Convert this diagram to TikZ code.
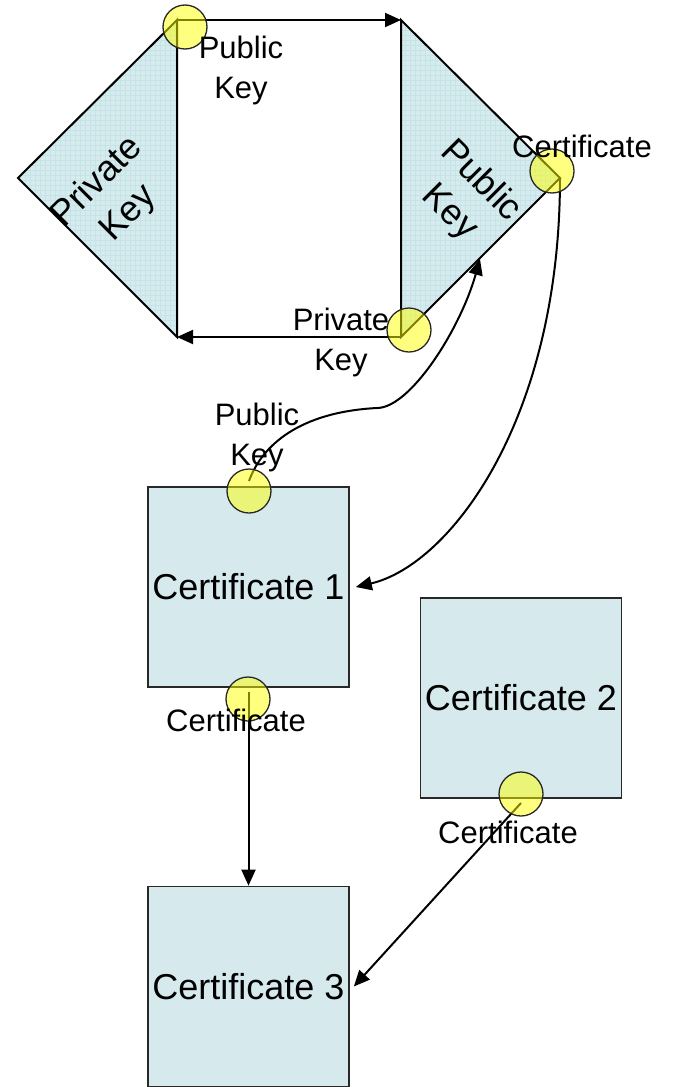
\documentclass[tikz,border=0pt]{standalone}
\usepackage{fontspec}
\setmainfont{Liberation Sans}
\usetikzlibrary{arrows.meta}
\definecolor{keyfill}{RGB}{213,235,238}
\definecolor{keygrid}{RGB}{198,227,231}
\definecolor{boxfill}{RGB}{214,234,238}
\definecolor{portyellow}{RGB}{255,255,0}
\definecolor{edgegray}{RGB}{40,40,40}

\begin{document}
\begin{tikzpicture}[x=1pt,y=-1pt,
  link/.style={line width=2pt, -{Triangle[length=16pt,width=14pt]}},
  plain/.style={line width=2pt, line join=miter},
  certbox/.style={draw=edgegray, line width=1.7pt, fill=boxfill,
    minimum width=201pt, minimum height=200pt, inner sep=0pt,
    font=\fontsize{36}{44}\selectfont},
  port/.style={circle, draw=edgegray, line width=1.3pt, fill=portyellow,
    fill opacity=0.5, minimum size=44pt, inner sep=0pt},
  tag/.style={align=center, inner sep=0pt, font=\fontsize{31}{40}\selectfont},
  keytag/.style={align=center, inner sep=0pt, font=\fontsize{36}{44}\selectfont},
]
\useasboundingbox (0,0) rectangle (673,1087);

% key pair triangles
\coordinate (LT) at (177,20);
\coordinate (LL) at (18,178);
\coordinate (LB) at (177,337);
\coordinate (RT) at (401,20);
\coordinate (RR) at (560,178);
\coordinate (RB) at (401,337);

\fill[keyfill] (LT) -- (LL) -- (LB) -- cycle;
\fill[keyfill] (RT) -- (RR) -- (RB) -- cycle;
\begin{scope}
  \clip (LT) -- (LL) -- (LB) -- cycle;
  \draw[keygrid, line width=0.4pt, step=5pt] (0,400) grid (600,0);
\end{scope}
\begin{scope}
  \clip (RT) -- (RR) -- (RB) -- cycle;
  \draw[keygrid, line width=0.4pt, step=5pt] (0,400) grid (600,0);
\end{scope}
\draw[plain] (LT) -- (LL) -- (LB) -- cycle;
\draw[plain] (RT) -- (RR) -- (RB) -- cycle;

% certificates
\node[certbox] (c1) at (248.5,587) {Certificate 1};
\node[certbox] (c2) at (521,698) {Certificate 2};
\node[certbox] (c3) at (248.5,986.5) {Certificate 3};

% connector end points
\coordinate (s1) at (249,481);
\coordinate (m1) at (377,408);
\coordinate (e1) at (480,259);
\coordinate (s5) at (248.5,692);
\coordinate (s6) at (521,803);

% connectors
\draw[link] (LT) -- (RT);
\draw[link] (RB) -- (LB);
\draw[link] (s1) .. controls (262,445) and (300,412) .. (m1)
                 .. controls (410,408) and (460,330) .. (e1);
\draw[link] (RR) .. controls (560,420) and (450,565) .. ([xshift=6pt]c1.east);
\draw[link] (s5) -- (c3.north);
\draw[link] (s6) -- ([xshift=4pt]c3.east);

% ports
\node[port] (pTL) at (185,27) {};
\node[port] (pRR) at (552,171) {};
\node[port] (pRB) at (409,330) {};
\node[port] (pC1t) at (249,491) {};
\node[port] (pC1b) at (248,699) {};
\node[port] (pC2b) at (521,794) {};

% labels
\node[tag] (tPK1) at (241,70) {Public\\Key};
\node[tag] (tCertR) at (582,146) {Certificate};
\node[tag] (tPrivK) at (341,342) {Private\\Key};
\node[tag] (tPK2) at (257,437) {Public\\Key};
\node[tag] (tC1) at (236,720) {Certificate};
\node[tag] (tC2) at (508,832) {Certificate};
\node[keytag, rotate=45] (kPriv) at (113,198) {Private\\Key};
\node[keytag, rotate=-45] (kPub) at (465,197) {Public\\Key};
\end{tikzpicture}
\end{document}
